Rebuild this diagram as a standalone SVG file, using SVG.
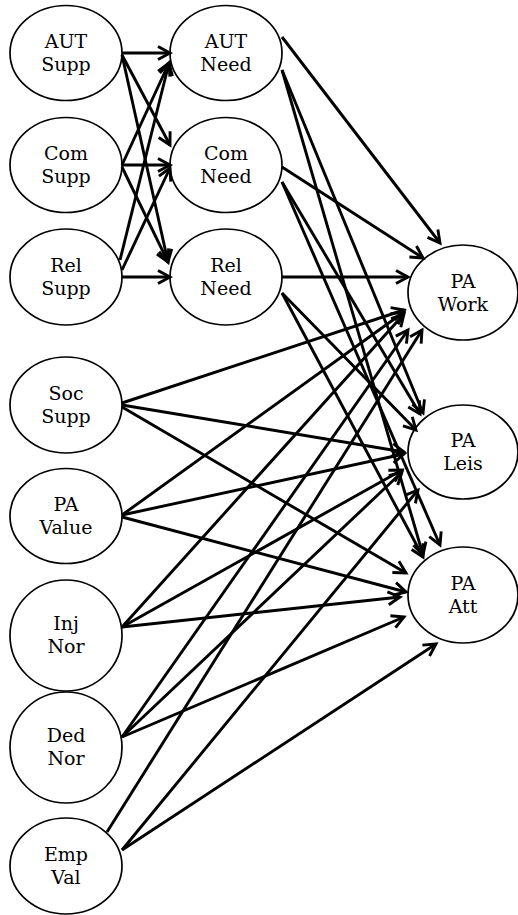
<svg xmlns="http://www.w3.org/2000/svg" width="518" height="915" viewBox="0 0 518 915">
<style>
.n ellipse{fill:#fff;stroke:#000;stroke-width:1.7}
.n text{font-family:"DejaVu Serif","Liberation Serif",serif;font-size:19px;fill:#000;text-anchor:middle}
#edges path{fill:none;stroke:#000;stroke-width:2.9;marker-end:url(#arr)}
</style>
<defs>
<marker id="arr" markerUnits="userSpaceOnUse" viewBox="-15 -9 18 18" refX="0" refY="0" markerWidth="18" markerHeight="18" orient="auto">
<path d="M-12,-6.5 L0,0 L-12,6.5" fill="none" stroke="#000" stroke-width="2.9"/>
</marker>
</defs>
<rect width="518" height="915" fill="#fff"/>
<g id="aut-supp" class="n"><ellipse cx="66" cy="53" rx="56" ry="47.5"/><text x="66" y="48">AUT</text><text x="66" y="71">Supp</text></g>
<g id="com-supp" class="n"><ellipse cx="66" cy="165" rx="56" ry="47.5"/><text x="66" y="160">Com</text><text x="66" y="183">Supp</text></g>
<g id="rel-supp" class="n"><ellipse cx="66" cy="277" rx="56" ry="48"/><text x="66" y="272">Rel</text><text x="66" y="295">Supp</text></g>
<g id="soc-supp" class="n"><ellipse cx="66" cy="405" rx="56" ry="48"/><text x="66" y="400">Soc</text><text x="66" y="423">Supp</text></g>
<g id="pa-value" class="n"><ellipse cx="66" cy="516" rx="56" ry="47.5"/><text x="66" y="511">PA</text><text x="66" y="534">Value</text></g>
<g id="inj-nor" class="n"><ellipse cx="66" cy="635.5" rx="56" ry="55.5"/><text x="66" y="630">Inj</text><text x="66" y="653">Nor</text></g>
<g id="ded-nor" class="n"><ellipse cx="66" cy="747.5" rx="56" ry="55.5"/><text x="66" y="742">Ded</text><text x="66" y="765">Nor</text></g>
<g id="emp-val" class="n"><ellipse cx="66" cy="866" rx="56" ry="48"/><text x="66" y="861">Emp</text><text x="66" y="884">Val</text></g>
<g id="aut-need" class="n"><ellipse cx="226" cy="53" rx="56" ry="47.5"/><text x="226" y="48">AUT</text><text x="226" y="71">Need</text></g>
<g id="com-need" class="n"><ellipse cx="226" cy="165" rx="56" ry="47.5"/><text x="226" y="160">Com</text><text x="226" y="183">Need</text></g>
<g id="rel-need" class="n"><ellipse cx="226" cy="277" rx="56" ry="48"/><text x="226" y="272">Rel</text><text x="226" y="295">Need</text></g>
<g id="pa-work" class="n"><ellipse cx="463" cy="292.5" rx="55" ry="47.5"/><text x="463" y="288">PA</text><text x="463" y="311">Work</text></g>
<g id="pa-leis" class="n"><ellipse cx="463" cy="452" rx="55" ry="47"/><text x="463" y="447">PA</text><text x="463" y="470">Leis</text></g>
<g id="pa-att" class="n"><ellipse cx="463" cy="595" rx="55" ry="48"/><text x="463" y="590">PA</text><text x="463" y="613">Att</text></g>
<g id="edges">
<path d="M122,53 L170,53"/>
<path d="M122,55 L170,145"/>
<path d="M122,55 L168,262"/>
<path d="M122,165 L169,63"/>
<path d="M122,165 L170,165"/>
<path d="M122,167 L168,262"/>
<path d="M120,260 L169,63"/>
<path d="M122,270 L170,168"/>
<path d="M122,277 L170,277"/>
<path d="M282,37 L440,243"/>
<path d="M282,167 L423,258"/>
<path d="M282,277 L408,277"/>
<path d="M282,70 L423,413"/>
<path d="M282,70 L423,555"/>
<path d="M282,182 L420,414"/>
<path d="M282,182 L440,545"/>
<path d="M282,293 L416,430"/>
<path d="M282,293 L423,557"/>
<path d="M122,403 L404,310"/>
<path d="M122,405 L404,452"/>
<path d="M122,407 L406,573"/>
<path d="M122,515 L404,312"/>
<path d="M122,515 L404,454"/>
<path d="M122,517 L406,592"/>
<path d="M122,627 L404,314"/>
<path d="M122,627 L402,470"/>
<path d="M122,627 L400,597"/>
<path d="M122,737 L408,330"/>
<path d="M122,737 L402,472"/>
<path d="M122,737 L404,617"/>
<path d="M107,832 L422,330"/>
<path d="M122,850 L418,490"/>
<path d="M122,850 L436,644"/>
</g>
</svg>
